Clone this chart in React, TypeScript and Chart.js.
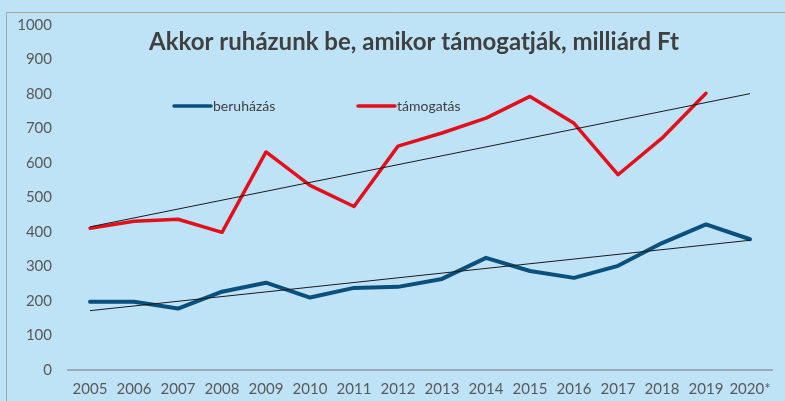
import React, { useEffect, useRef } from "react";
import { Chart, registerables } from "chart.js";

Chart.register(...registerables);

const categories = ["2005", "2006", "2007", "2008", "2009", "2010", "2011", "2012", "2013", "2014", "2015", "2016", "2017", "2018", "2019", "2020*"];
const beruhazas = [198, 198, 178, 227, 253, 210, 238, 241, 264, 325, 287, 267, 302, 368, 422, 379];
const tamogatas = [411, 431, 437, 399, 632, 535, 474, 649, 687, 730, 793, 715, 566, 672, 802, null];
// linear trend lines (start at 2005, end at 2020*)
const beruhazasTrend = [172, null, null, null, null, null, null, null, null, null, null, null, null, null, null, 376];
const tamogatasTrend = [415, null, null, null, null, null, null, null, null, null, null, null, null, null, null, 801];
const title = "Akkor ruházunk be, amikor támogatják, milliárd Ft";
const legendLabels = ["beruházás", "támogatás"];

const BG = "#BEE3F7";
const BLUE = "#0B4F7D";
const RED = "#E3101B";
const FONT = "Lato, 'Open Sans', sans-serif";

export default function App() {
  const ref = useRef<HTMLCanvasElement | null>(null);

  useEffect(() => {
    if (!ref.current) return;
    const overlay = {
      id: "overlay",
      afterDraw(chart: any) {
        const ctx = chart.ctx;
        ctx.save();
        // frame
        ctx.strokeStyle = "#A6A6A6";
        ctx.lineWidth = 1;
        ctx.beginPath();
        ctx.moveTo(6.5, 401);
        ctx.lineTo(6.5, 12.5);
        ctx.lineTo(785, 12.5);
        ctx.stroke();
        // title
        ctx.fillStyle = "#404040";
        ctx.font = `bold 24px ${FONT}`;
        ctx.textAlign = "center";
        ctx.textBaseline = "alphabetic";
        ctx.fillText(title, 414, 50);
        // legend
        const items = [
          { x: 173, color: BLUE, label: legendLabels[0] },
          { x: 357, color: RED, label: legendLabels[1] },
        ];
        ctx.font = `14px ${FONT}`;
        ctx.textAlign = "left";
        ctx.textBaseline = "middle";
        for (const it of items) {
          ctx.strokeStyle = it.color;
          ctx.lineWidth = 3.5;
          ctx.lineCap = "round";
          ctx.beginPath();
          ctx.moveTo(it.x + 1, 106);
          ctx.lineTo(it.x + 38, 106);
          ctx.stroke();
          ctx.fillStyle = "#404040";
          ctx.fillText(it.label, it.x + 40, 106);
        }
        ctx.restore();
      },
    };
    const chart = new Chart(ref.current, {
      type: "line",
      data: {
        labels: categories,
        datasets: [
          {
            label: legendLabels[0],
            data: beruhazas,
            borderColor: BLUE,
            borderWidth: 4,
            pointRadius: 0,
            borderJoinStyle: "round",
            borderCapStyle: "round",
            order: 2,
          },
          {
            label: legendLabels[1],
            data: tamogatas,
            borderColor: RED,
            borderWidth: 3.5,
            pointRadius: 0,
            borderJoinStyle: "round",
            borderCapStyle: "round",
            order: 2,
          },
          {
            label: "trend1",
            data: beruhazasTrend,
            borderColor: "#1A1A1A",
            borderWidth: 1,
            pointRadius: 0,
            spanGaps: true,
            order: 1,
          },
          {
            label: "trend2",
            data: tamogatasTrend,
            borderColor: "#1A1A1A",
            borderWidth: 1,
            pointRadius: 0,
            spanGaps: true,
            order: 1,
          },
        ],
      },
      options: {
        animation: false,
        responsive: false,
        maintainAspectRatio: false,
        layout: { padding: { left: 0, right: 13, top: 22, bottom: 0 } },
        plugins: {
          legend: { display: false },
          title: { display: false },
          tooltip: { enabled: false },
        },
        scales: {
          x: {
            offset: true,
            grid: { display: false, drawTicks: false },
            border: { display: true, color: "#98A9B8", width: 2 },
            ticks: {
              color: "#595959",
              font: { family: FONT, size: 15 },
              padding: 10,
              maxRotation: 0,
              autoSkip: false,
            },
            afterFit(scale: any) {
              scale.height = 31;
            },
          },
          y: {
            min: 0,
            max: 1000,
            grid: { display: false, drawTicks: false },
            border: { display: false },
            ticks: {
              stepSize: 100,
              color: "#595959",
              font: { family: FONT, size: 15 },
              padding: 16,
              callback: (v: any) => String(v),
            },
            afterFit(scale: any) {
              scale.width = 68;
            },
          },
        },
      },
      plugins: [overlay],
    } as any);
    return () => chart.destroy();
  }, []);

  return (
    <div style={{ position: "fixed", left: 0, top: 0, width: 785, height: 401, background: BG }}>
      <canvas ref={ref} width={785} height={401} style={{ display: "block", width: 785, height: 401 }} />
    </div>
  );
}
